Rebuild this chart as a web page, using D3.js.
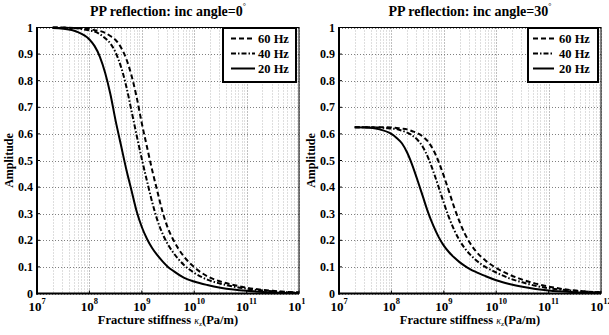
<!DOCTYPE html>
<html><head><meta charset="utf-8">
<script src="https://cdn.jsdelivr.net/npm/d3@7"></script>
<style>
body{margin:0;background:#fff;}
svg{display:block;font-family:"Liberation Serif","Times New Roman",serif;font-weight:bold;}
</style></head>
<body><svg id="c" width="609" height="335"></svg>
<script>
// log10 of fracture stiffness (Pa/m) at which amplitudes were read
const stiffnessExp = [7.3,7.5,7.75,8.0,8.1,8.2,8.3,8.4,8.5,8.6,8.7,8.8,8.9,9.0,9.1,9.2,9.3,9.4,9.5,9.6,9.8,10.0,10.25,10.5,10.75,11.0,11.5,12.0];
// incidence angle 0
const amp0_60 = [1.0,1.0,0.998,0.995,0.99,0.987,0.98,0.968,0.953,0.926,0.884,0.822,0.74,0.64,0.55,0.462,0.382,0.304,0.245,0.202,0.14,0.099,0.065,0.045,0.032,0.022,0.01,0.004];
const amp0_40 = [1.0,0.999,0.997,0.989,0.985,0.975,0.96,0.94,0.906,0.854,0.782,0.69,0.596,0.506,0.422,0.342,0.274,0.223,0.184,0.154,0.108,0.078,0.052,0.037,0.026,0.018,0.008,0.0035];
const amp0_20 = [0.998,0.995,0.985,0.955,0.93,0.89,0.83,0.75,0.65,0.56,0.47,0.39,0.31,0.25,0.205,0.17,0.143,0.12,0.10,0.085,0.06,0.045,0.032,0.022,0.015,0.010,0.004,0.002];
// incidence angle 30
const amp30_60 = [0.625,0.625,0.625,0.624,0.622,0.620,0.617,0.610,0.602,0.590,0.571,0.540,0.496,0.442,0.383,0.323,0.270,0.225,0.190,0.162,0.123,0.096,0.071,0.052,0.037,0.026,0.011,0.005];
const amp30_40 = [0.625,0.625,0.624,0.620,0.618,0.612,0.605,0.594,0.577,0.551,0.511,0.459,0.401,0.341,0.285,0.238,0.200,0.170,0.147,0.128,0.099,0.079,0.057,0.042,0.029,0.020,0.010,0.004];
const amp30_20 = [0.625,0.624,0.618,0.600,0.585,0.565,0.530,0.482,0.425,0.365,0.305,0.255,0.213,0.180,0.155,0.135,0.118,0.104,0.092,0.082,0.065,0.050,0.036,0.025,0.017,0.011,0.005,0.002];

const seriesLabels = ["60 Hz","40 Hz","20 Hz"];
const titles = ["PP reflection: inc angle=0","PP reflection: inc angle=30"];
const xTickExps = [7,8,9,10,11,12];
const yTicks = [0,0.1,0.2,0.3,0.4,0.5,0.6,0.7,0.8,0.9,1];
const yTickLabels = ["0","0.1","0.2","0.3","0.4","0.5","0.6","0.7","0.8","0.9","1"];

const dashes = ["5,3","5,2,1.5,2",null];
const svg = d3.select("#c");

const panels = [
  {x0:37,x1:299,series:[amp0_60,amp0_40,amp0_20],title:titles[0],leg:{x:223,w:73,sx0:231,sx1:255,tx:258}},
  {x0:339,x1:601,series:[amp30_60,amp30_40,amp30_20],title:titles[1],leg:{x:528,w:70,sx0:533,sx1:554,tx:559}}
];
const yTop=27.5, yBot=293.5;

panels.forEach((p,pi)=>{
  if(pi===1){ svg.append("rect").attr("x",305).attr("y",0).attr("width",304).attr("height",335).attr("fill","#fff"); }
  const g = svg.append("g");
  const x = d3.scaleLog().domain([1e7,1e12]).range([p.x0,p.x1]);
  const y = d3.scaleLinear().domain([0,1]).range([yBot,yTop]);
  // minor vertical grid
  const minor=[];
  for(let e=7;e<12;e++) for(let m=2;m<=9;m++) minor.push(m*Math.pow(10,e));
  g.selectAll(null).data(minor).join("line")
    .attr("x1",d=>Math.round(x(d))+0.5).attr("x2",d=>Math.round(x(d))+0.5)
    .attr("y1",yTop).attr("y2",yBot)
    .attr("stroke","#bdbdbd").attr("stroke-width",1).attr("stroke-dasharray","1,2");
  // major vertical grid
  g.selectAll(null).data(xTickExps).join("line")
    .attr("x1",d=>Math.round(x(Math.pow(10,d)))+0.5).attr("x2",d=>Math.round(x(Math.pow(10,d)))+0.5)
    .attr("y1",yTop).attr("y2",yBot)
    .attr("stroke","#808080").attr("stroke-width",1).attr("stroke-dasharray","1,2");
  // horizontal grid
  g.selectAll(null).data(yTicks).join("line")
    .attr("x1",p.x0).attr("x2",p.x1)
    .attr("y1",d=>Math.round(y(d))+0.5).attr("y2",d=>Math.round(y(d))+0.5)
    .attr("stroke","#808080").attr("stroke-width",1).attr("stroke-dasharray","1,2");

  // curves
  const line = d3.line().x((d,i)=>x(Math.pow(10,stiffnessExp[i]))).y(d=>y(d)).curve(d3.curveMonotoneX);
  p.series.forEach((s,si)=>{
    g.append("path").datum(s).attr("d",line).attr("fill","none")
      .attr("stroke","#000").attr("stroke-width",2)
      .attr("stroke-dasharray",dashes[si]);
  });

  // axes frame
  g.append("rect").attr("x",p.x0).attr("y",yTop).attr("width",p.x1-p.x0).attr("height",yBot-yTop)
    .attr("fill","none").attr("stroke","#000").attr("stroke-width",1);
  g.append("line").attr("x1",p.x0).attr("x2",p.x0).attr("y1",yTop-0.5).attr("y2",yBot+1).attr("stroke","#000").attr("stroke-width",2);
  g.append("line").attr("x1",p.x0-1).attr("x2",p.x1).attr("y1",yBot).attr("y2",yBot).attr("stroke","#000").attr("stroke-width",2);

  // y ticks
  g.selectAll(null).data(yTicks).join("line")
    .attr("x1",p.x0).attr("x2",p.x0+3).attr("y1",d=>y(d)).attr("y2",d=>y(d)).attr("stroke","#000");
  g.selectAll(null).data(yTicks).join("text")
    .attr("x",p.x0-4).attr("y",d=>y(d)+4).attr("text-anchor","end")
    .attr("font-size",12).text((d,i)=>yTickLabels[i]);
  // x ticks
  g.selectAll(null).data(xTickExps).join("line")
    .attr("x1",d=>x(Math.pow(10,d))).attr("x2",d=>x(Math.pow(10,d)))
    .attr("y1",yBot).attr("y2",yBot-3).attr("stroke","#000");
  const xt = g.selectAll(null).data(xTickExps).join("text")
    .attr("x",d=>x(Math.pow(10,d))).attr("y",311).attr("text-anchor","middle").attr("font-size",13);
  xt.append("tspan").text("10");
  xt.append("tspan").attr("dy",-7).attr("font-size",8.5).text(d=>d);

  // title
  const cx=(p.x0+p.x1)/2;
  const t = g.append("text").attr("x",cx).attr("y",16).attr("text-anchor","middle").attr("font-size",14);
  t.append("tspan").text(p.title);
  t.append("tspan").attr("dy",-7).attr("font-size",8).attr("font-weight","normal").text("°");

  // y label
  g.append("text").attr("transform",`translate(${p.x0-24},${(yTop+yBot)/2}) rotate(-90)`)
    .attr("text-anchor","middle").attr("font-size",12).text("Amplitude");
  // x label
  const xl = g.append("text").attr("x",cx).attr("y",323.5).attr("text-anchor","middle").attr("font-size",12.5);
  xl.append("tspan").text("Fracture stiffness ");
  xl.append("tspan").attr("font-style","italic").attr("font-weight","normal").attr("font-size",10).text("κ");
  xl.append("tspan").attr("font-weight","normal").attr("font-size",7).attr("dy",2).text("z");
  xl.append("tspan").attr("dy",-2).text("(Pa/m)");

  // legend
  const L=p.leg, ly0=28, ly1=82;
  g.append("rect").attr("x",L.x).attr("y",ly0).attr("width",L.w).attr("height",ly1-ly0)
    .attr("fill","#fff").attr("stroke","#000").attr("stroke-width",2);
  seriesLabels.forEach((lab,si)=>{
    const yy=38.5+si*15;
    g.append("line").attr("x1",L.sx0).attr("x2",L.sx1).attr("y1",yy).attr("y2",yy)
      .attr("stroke","#000").attr("stroke-width",2).attr("stroke-dasharray",dashes[si]);
    g.append("text").attr("x",L.tx).attr("y",yy+4.5).attr("font-size",12.5).text(lab);
  });
});
</script></body></html>
